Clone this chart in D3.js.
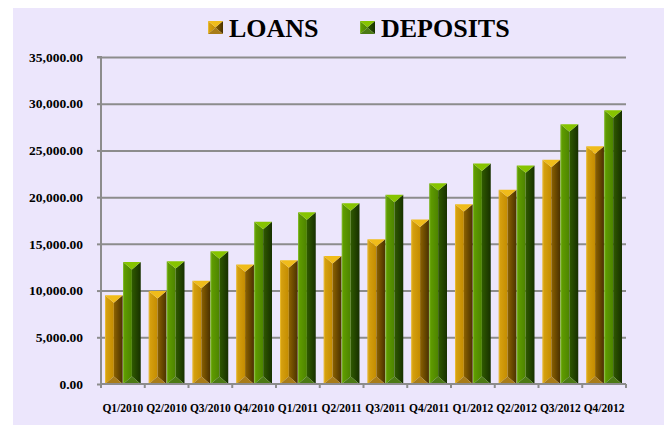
<!DOCTYPE html>
<html>
<head>
<meta charset="utf-8">
<script src="https://cdn.jsdelivr.net/npm/d3@7"></script>
<style>
  html, body { margin: 0; padding: 0; background: #ffffff; }
  svg { display: block; }
  text { font-family: "Liberation Serif", "Times New Roman", serif; font-weight: bold; fill: #000; }
</style>
</head>
<body>
<svg width="664" height="425"></svg>
<script>
// quarters on the x axis
const categories = ['Q1/2010', 'Q2/2010', 'Q3/2010', 'Q4/2010', 'Q1/2011', 'Q2/2011',
                    'Q3/2011', 'Q4/2011', 'Q1/2012', 'Q2/2012', 'Q3/2012', 'Q4/2012'];
const loans    = [9500, 9950, 11050, 12800, 13250, 13700, 15500, 17600, 19250, 20800, 24000, 25450];
const deposits = [13050, 13150, 14200, 17370, 18380, 19350, 20250, 21500, 23600, 23400, 27800, 29300];
const seriesNames = ['LOANS', 'DEPOSITS'];
const yTicks = [0, 5000, 10000, 15000, 20000, 25000, 30000, 35000];

const svg = d3.select('svg');

// lavender panel
svg.append('rect')
  .attr('x', 13).attr('y', 8)
  .attr('width', 651).attr('height', 417)
  .attr('fill', '#ece6fc');

const plotLeft = 101, plotRight = 626, plotTop = 57, plotBottom = 384;

const x = d3.scaleBand().domain(categories).range([plotLeft, plotRight]);
const inner = d3.scaleBand().domain(seriesNames).range([4, x.bandwidth() - 4]).paddingInner(0.02);
const y = d3.scaleLinear().domain([0, 35000]).range([plotBottom, plotTop]);

// colours for each series: top, left face, right face, bottom
const palette = {
  LOANS:    { top: '#f0bc1a', l1: '#d9a412', l2: '#c48c00', r1: '#8c6200', r2: '#4a3100', bot: '#a87c18' },
  DEPOSITS: { top: '#86c400', l1: '#62a000', l2: '#4d8400', r1: '#2f5a00', r2: '#173000', bot: '#4c7a14' }
};

const defs = svg.append('defs');
seriesNames.forEach(name => {
  const c = palette[name];
  const gl = defs.append('linearGradient').attr('id', 'gl-' + name).attr('x1', 0).attr('x2', 1).attr('y1', 0).attr('y2', 0);
  gl.append('stop').attr('offset', 0).attr('stop-color', c.l1);
  gl.append('stop').attr('offset', 1).attr('stop-color', c.l2);
  const gr = defs.append('linearGradient').attr('id', 'gr-' + name).attr('x1', 0).attr('x2', 1).attr('y1', 0).attr('y2', 0);
  gr.append('stop').attr('offset', 0).attr('stop-color', c.r1);
  gr.append('stop').attr('offset', 1).attr('stop-color', c.r2);
});

// gridlines
svg.append('g')
  .attr('transform', `translate(${plotLeft},0)`)
  .call(d3.axisLeft(y).tickValues(yTicks.slice(1)).tickSize(-(plotRight - plotLeft)).tickFormat(''))
  .call(g => g.select('.domain').remove())
  .call(g => g.selectAll('.tick line').attr('stroke', '#8c8c8c').attr('stroke-width', 2));

// y axis (line + small ticks)
svg.append('g')
  .attr('transform', `translate(${plotLeft},0)`)
  .call(d3.axisLeft(y).tickValues(yTicks).tickSize(4).tickFormat(''))
  .call(g => g.select('.domain').attr('stroke', '#8c8c8c').attr('stroke-width', 2).attr('d', `M-4,${plotTop}H0V${plotBottom}`))
  .call(g => g.selectAll('.tick line').attr('stroke', '#8c8c8c').attr('stroke-width', 2));

// y tick labels
const fmt = d3.format(',.2f');
svg.append('g').selectAll('text')
  .data(yTicks)
  .enter()
  .append('text')
  .attr('x', plotLeft - 18)
  .attr('y', d => y(d))
  .attr('dy', '0.35em')
  .attr('text-anchor', 'end')
  .style('font-size', '13.5px')
  .text(d => fmt(d));

// bevelled bar drawn as four faces
function bevel(g, x0, y0, w, h, name) {
  const c = palette[name];
  const d = Math.min(w * 0.42, h / 2);
  const cx = x0 + w / 2, y1 = y0 + h;
  g.append('polygon').attr('points', [[x0, y0], [cx, y0 + d], [cx, y1 - d], [x0, y1]].join(' ')).attr('fill', `url(#gl-${name})`);
  g.append('polygon').attr('points', [[x0 + w, y0], [cx, y0 + d], [cx, y1 - d], [x0 + w, y1]].join(' ')).attr('fill', `url(#gr-${name})`);
  g.append('polygon').attr('points', [[x0, y0], [x0 + w, y0], [cx, y0 + d]].join(' ')).attr('fill', c.top);
  g.append('polygon').attr('points', [[x0, y1], [x0 + w, y1], [cx, y1 - d]].join(' ')).attr('fill', c.bot);
  g.append('line').attr('x1', x0 + 0.5).attr('x2', x0 + 0.5).attr('y1', y0 + 1).attr('y2', y1 - 1)
    .attr('stroke', name === 'LOANS' ? '#f2c648' : '#8cc43a').attr('stroke-opacity', 0.6);
}

const rows = categories.map((cat, i) => ({ cat, LOANS: loans[i], DEPOSITS: deposits[i] }));
const groups = svg.append('g').selectAll('g')
  .data(rows)
  .enter()
  .append('g');

groups.each(function (row) {
  const g = d3.select(this);
  seriesNames.forEach(name => {
    const bx = x(row.cat) + inner(name);
    const by = y(row[name]);
    bevel(g, bx, by, inner.bandwidth(), y(0) - by, name);
  });
});

// x axis line with ticks at the band edges
const xAxis = svg.append('g');
xAxis.append('line')
  .attr('x1', plotLeft).attr('x2', plotRight).attr('y1', plotBottom).attr('y2', plotBottom)
  .attr('stroke', '#8c8c8c').attr('stroke-width', 2);
xAxis.selectAll('.edge')
  .data(categories.map(c => x(c)).concat([plotRight]))
  .enter()
  .append('line')
  .attr('x1', d => d).attr('x2', d => d)
  .attr('y1', plotBottom).attr('y2', plotBottom + 4)
  .attr('stroke', '#8c8c8c').attr('stroke-width', 2);

// x tick labels
svg.append('g').selectAll('text')
  .data(categories)
  .enter()
  .append('text')
  .attr('x', d => x(d) + x.bandwidth() / 2)
  .attr('y', 412)
  .attr('text-anchor', 'middle')
  .style('font-size', '11.5px')
  .text(d => d);

// legend
const legendX = [208, 360];
const legend = svg.append('g').selectAll('g')
  .data(seriesNames)
  .enter()
  .append('g');
legend.each(function (name, i) {
  const g = d3.select(this);
  bevel(g, legendX[i], 21, 15, 13, name);
  g.append('text')
    .attr('x', legendX[i] + 21)
    .attr('y', 37)
    .style('font-size', '26px')
    .text(name);
});
</script>
</body>
</html>
